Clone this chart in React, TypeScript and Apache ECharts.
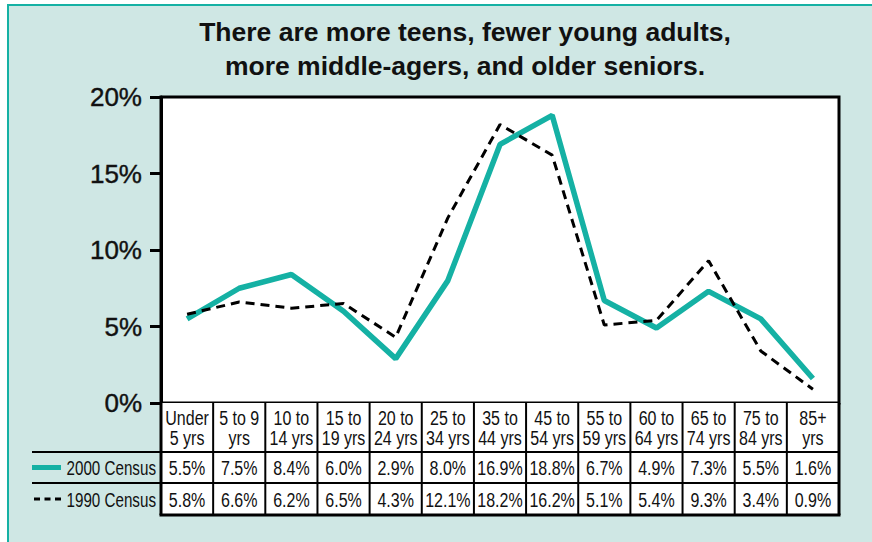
import React, { useEffect, useRef } from "react";
import * as echarts from "echarts";

const categories = [
  "Under\n5 yrs", "5 to 9\nyrs", "10 to\n14 yrs", "15 to\n19 yrs", "20 to\n24 yrs",
  "25 to\n34 yrs", "35 to\n44 yrs", "45 to\n54 yrs", "55 to\n59 yrs", "60 to\n64 yrs",
  "65 to\n74 yrs", "75 to\n84 yrs", "85+\nyrs",
];
const census2000 = [5.5, 7.5, 8.4, 6.0, 2.9, 8.0, 16.9, 18.8, 6.7, 4.9, 7.3, 5.5, 1.6];
const census1990 = [5.8, 6.6, 6.2, 6.5, 4.3, 12.1, 18.2, 16.2, 5.1, 5.4, 9.3, 3.4, 0.9];
const seriesNames = ["2000 Census", "1990 Census"];
const titleLines = ["There are more teens, fewer young adults,", "more middle-agers, and older seniors."];
const yMin = 0;
const yMax = 20;
const yStep = 5;

const TEAL = "#15b1a4";
const SANS = '"Liberation Sans", Arial, sans-serif';
const CELL_SCALE = 0.8;

export default function App() {
  const ref = useRef<HTMLDivElement>(null);

  useEffect(() => {
    document.body.style.margin = "0";
    const chart = echarts.init(ref.current!, undefined, { renderer: "svg" });
    chart.setOption({
      animation: false,
      backgroundColor: "transparent",
      grid: {
        left: 161,
        right: 33,
        top: 97,
        bottom: 139,
        show: true,
        backgroundColor: "#ffffff",
        borderColor: "#000000",
        borderWidth: 3,
      },
      xAxis: {
        type: "category",
        data: categories,
        boundaryGap: true,
        axisLine: { show: false },
        axisTick: { show: false },
        axisLabel: { show: false },
        splitLine: { show: false },
      },
      yAxis: {
        type: "value",
        min: yMin,
        max: yMax,
        interval: yStep,
        axisLine: { show: true, lineStyle: { color: "#000", width: 3 } },
        axisTick: { show: true, length: 11, lineStyle: { color: "#000", width: 3 } },
        axisLabel: {
          margin: 19,
          formatter: (v: number) => `${v}%`,
          color: "#111",
          fontFamily: SANS,
          fontSize: 26,
          textBorderColor: "#111",
          textBorderWidth: 0.4,
        },
        splitLine: { show: false },
      },
      series: [
        {
          name: seriesNames[0],
          type: "line",
          data: census2000,
          symbol: "none",
          lineStyle: { color: TEAL, width: 5.5 },
          z: 3,
        },
        {
          name: seriesNames[1],
          type: "line",
          data: census1990,
          symbol: "none",
          lineStyle: { color: "#000", width: 3, type: [9, 6] },
          z: 4,
        },
      ],
    });

    const xa = chart.convertToPixel({ xAxisIndex: 0 }, 0) as number;
    const xb = chart.convertToPixel({ xAxisIndex: 0 }, 1) as number;
    const bw = xb - xa;
    const left = xa - bw / 2;
    const right = left + bw * categories.length;
    const y0 = chart.convertToPixel({ yAxisIndex: 0 }, yMin) as number;
    const r1 = y0 + 49;
    const r2 = r1 + 31;
    const r3 = r2 + 32;

    const cellText = (text: string, x: number, y: number, align = "center", lh?: number, sx = CELL_SCALE) => ({
      type: "text",
      x,
      y,
      scaleX: sx,
      z: 6,
      style: {
        text,
        fontFamily: SANS,
        fontSize: 20,
        lineHeight: lh,
        fill: "#111",
        align,
        verticalAlign: "middle",
      },
    });

    const g: any[] = [];
    // title
    g.push({
      type: "text",
      x: 465,
      y: 49,
      style: {
        text: titleLines.join("\n"),
        fontFamily: SANS,
        fontWeight: "bold",
        fontSize: 26.5,
        lineHeight: 34,
        fill: "#111",
        align: "center",
        verticalAlign: "middle",
      },
    });
    // table background
    g.push({ type: "rect", shape: { x: left, y: y0, width: right - left, height: r3 - y0 }, style: { fill: "#fff" }, z: 1 });
    // vertical lines
    for (let i = 0; i <= categories.length; i++) {
      const x = left + bw * i;
      const outer = i === 0 || i === categories.length;
      g.push({
        type: "line",
        shape: { x1: x, y1: y0, x2: x, y2: r3 },
        style: { stroke: "#000", lineWidth: outer ? 3 : 2 },
        z: 5,
      });
    }
    // horizontal lines
    g.push({ type: "line", shape: { x1: 32, y1: r1, x2: right, y2: r1 }, style: { stroke: "#000", lineWidth: 2 }, z: 5 });
    g.push({ type: "line", shape: { x1: 32, y1: r2, x2: right, y2: r2 }, style: { stroke: "#000", lineWidth: 2 }, z: 5 });
    g.push({ type: "line", shape: { x1: left - 1.5, y1: r3, x2: right + 1.5, y2: r3 }, style: { stroke: "#000", lineWidth: 3 }, z: 5 });

    categories.forEach((c, i) => {
      const cx = left + bw * (i + 0.5);
      g.push(cellText(c, cx, (y0 + r1) / 2 + 1, "center", 20));
      g.push(cellText(`${census2000[i].toFixed(1)}%`, cx, (r1 + r2) / 2 + 1));
      g.push(cellText(`${census1990[i].toFixed(1)}%`, cx, (r2 + r3) / 2 + 1));
    });

    // legend
    g.push({ type: "line", shape: { x1: 32, y1: (r1 + r2) / 2, x2: 61, y2: (r1 + r2) / 2 }, style: { stroke: TEAL, lineWidth: 5 }, z: 6 });
    g.push({ type: "line", shape: { x1: 34, y1: (r2 + r3) / 2, x2: 61, y2: (r2 + r3) / 2 }, style: { stroke: "#000", lineWidth: 3, lineDash: [6, 4.5] }, z: 6 });
    g.push(cellText(seriesNames[0], left - 5, (r1 + r2) / 2 + 1, "right", undefined, 0.76));
    g.push(cellText(seriesNames[1], left - 5, (r2 + r3) / 2 + 1, "right", undefined, 0.76));

    chart.setOption({ graphic: g });
    return () => chart.dispose();
  }, []);

  return (
    <div style={{ position: "relative", width: 872, height: 542, background: "#fff", overflow: "hidden" }}>
      <div
        style={{
          position: "absolute",
          left: 7,
          top: 4,
          right: 0,
          bottom: 0,
          background: "#cfe7e4",
          borderTop: `2px solid ${TEAL}`,
          borderLeft: `2px solid ${TEAL}`,
        }}
      />
      <div ref={ref} style={{ position: "absolute", left: 0, top: 0, width: 872, height: 542 }} />
    </div>
  );
}
